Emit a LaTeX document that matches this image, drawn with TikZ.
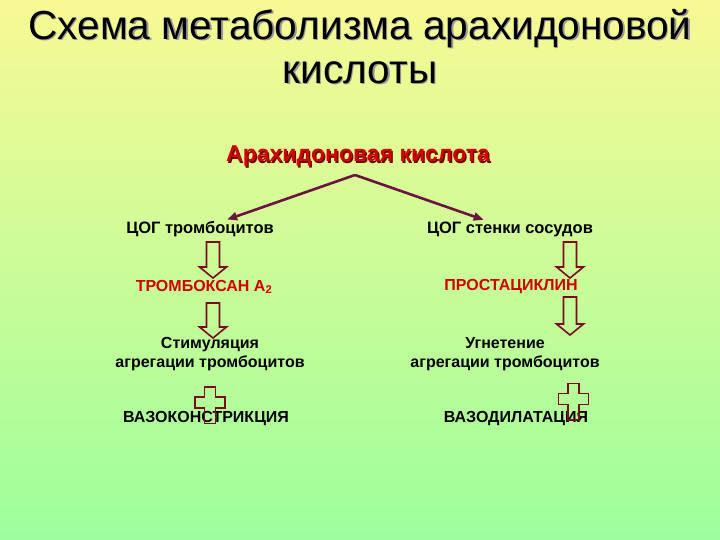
\documentclass[tikz,border=0pt]{standalone}
\usepackage{fontspec}
\setmainfont{Liberation Sans}
\usetikzlibrary{arrows.meta,positioning,calc}
\definecolor{BgTop}{HTML}{F8F994}
\definecolor{BgBottom}{HTML}{9CFF9C}
\definecolor{LeafRed}{HTML}{D00000}
\definecolor{DeepRed}{HTML}{6E0000}
\definecolor{PlumLine}{HTML}{6A1440}
\definecolor{BlockRed}{HTML}{7A0A1E}
\newcommand{\shadowed}[2]{\makebox[0pt][l]{\hspace{1.3pt}\raisebox{-1.3pt}{\color{#1}#2}}#2}
\newcommand{\blockarrow}[3]{%
  \draw[blockarr] (#1-6.5,#2) -- (#1+6.5,#2) -- (#1+6.5,#3-11) -- (#1+13.5,#3-11)
    -- (#1,#3) -- (#1-13.5,#3-11) -- (#1-6.5,#3-11) -- cycle;}
\newcommand{\crossmark}[2]{%
  \draw[blockarr] (#1-5.5,#2-15.5) -- (#1+5.5,#2-15.5) -- (#1+5.5,#2-5.5) -- (#1+15,#2-5.5)
    -- (#1+15,#2+5.5) -- (#1+5.5,#2+5.5) -- (#1+5.5,#2+21) -- (#1-5.5,#2+21)
    -- (#1-5.5,#2+5.5) -- (#1-15,#2+5.5) -- (#1-15,#2-5.5) -- (#1-5.5,#2-5.5) -- cycle;}

\begin{document}
\begin{tikzpicture}[x=1pt,y=-1pt,
  title/.style={font=\fontsize{40.6}{44}\selectfont, align=center, inner sep=0pt},
  acid/.style={font=\bfseries\fontsize{23}{26}\selectfont, text=LeafRed, inner sep=2pt},
  enzyme/.style={font=\bfseries\fontsize{16.5}{19}\selectfont, inner sep=1.5pt},
  product/.style={font=\bfseries\fontsize{16}{19}\selectfont, text=LeafRed, inner sep=1.5pt},
  effect/.style={font=\bfseries\fontsize{16}{19}\selectfont, align=center, inner sep=1.5pt},
  arr/.style={-{Triangle[length=10pt,width=8pt]}, line width=2.6pt, PlumLine},
  blockarr/.style={draw=BlockRed, line width=1.6pt, line join=miter}
]
\useasboundingbox (0,0) rectangle (720,540);
\shade[top color=BgTop, bottom color=BgBottom] (0,0) rectangle (720,540);

\node[title] (title) at (360,47) {\shadowed{gray!80}{Схема метаболизма арахидоновой}\\\shadowed{gray!80}{кислоты}};

\node[acid] (acid) at (358,157) {\shadowed{DeepRed}{Арахидоновая кислота}};
\coordinate (fork) at (355,175);

\node[enzyme] (cogL) at (200,229) {ЦОГ тромбоцитов};
\node[enzyme] (cogR) at (510,229) {ЦОГ стенки сосудов};

\draw[arr] (fork) -- (cogL);
\draw[arr] (fork) -- (cogR);

\node[product] (txa) at (204,287) {ТРОМБОКСАН А\textsubscript{2}};
\node[product] (pgi) at (511,287) {ПРОСТАЦИКЛИН};

\node[effect] (stim) at (210,354) {Стимуляция\\агрегации тромбоцитов};
\node[effect] (inhib) at (505,354) {Угнетение\\агрегации тромбоцитов};

\node[enzyme, font=\bfseries\fontsize{16}{19}\selectfont] (vcon) at (206,419) {ВАЗОКОНСТРИКЦИЯ};
\node[enzyme, font=\bfseries\fontsize{16}{19}\selectfont] (vdil) at (516,419) {ВАЗОДИЛАТАЦИЯ};

% block arrows and crosses
\blockarrow{213}{242}{278}
\blockarrow{213}{303}{338}
\blockarrow{570}{242}{278}
\blockarrow{570}{297}{335}
\crossmark{210}{402.5}
\crossmark{573.5}{399}
\end{tikzpicture}
\end{document}
